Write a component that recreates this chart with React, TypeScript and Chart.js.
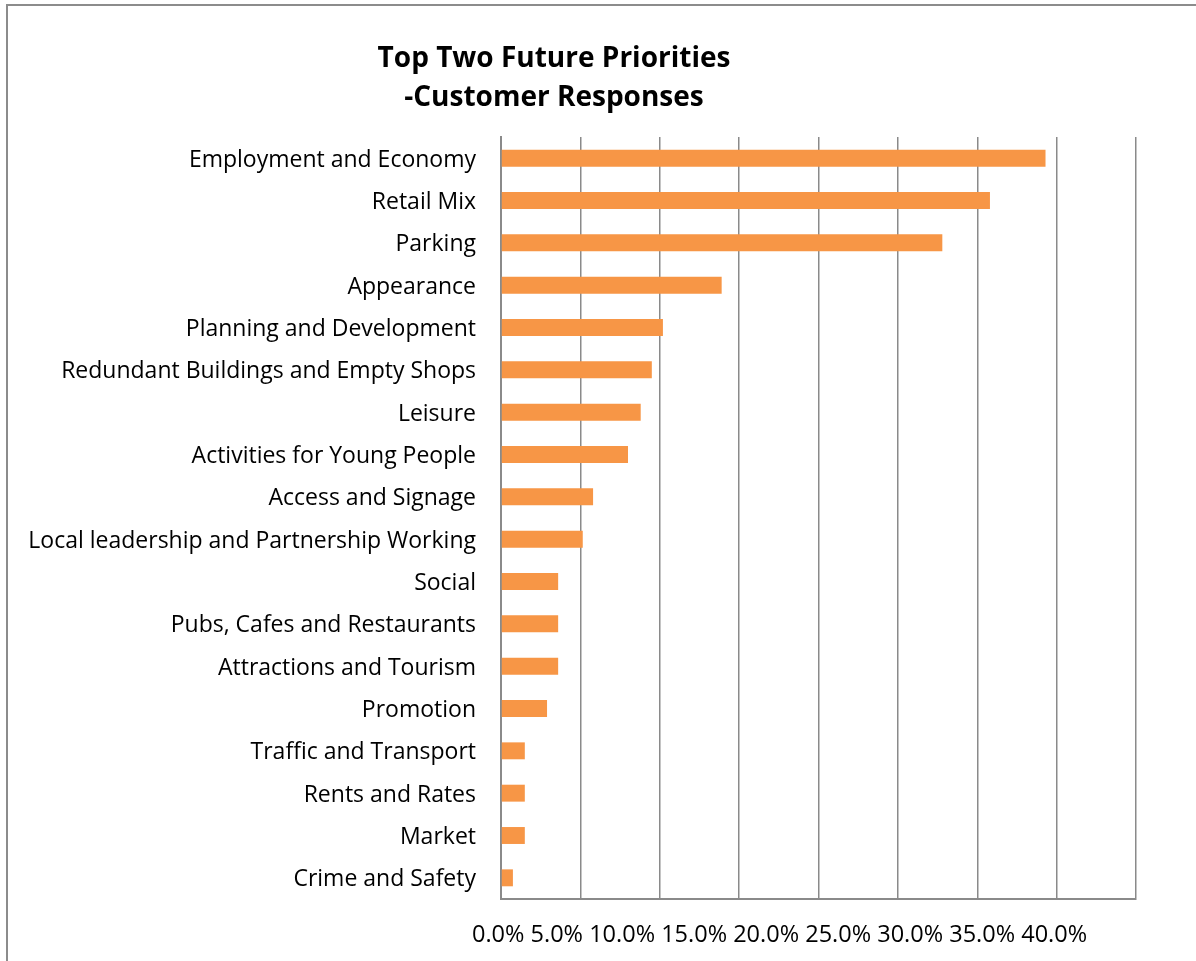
import React, { useEffect, useRef } from "react";
import { Chart, registerables } from "chart.js";

Chart.register(...registerables);

const categories = [
  "Employment and Economy",
  "Retail Mix",
  "Parking",
  "Appearance",
  "Planning and Development",
  "Redundant Buildings and Empty Shops",
  "Leisure",
  "Activities for Young People",
  "Access and Signage",
  "Local leadership and Partnership Working",
  "Social",
  "Pubs, Cafes and Restaurants",
  "Attractions and Tourism",
  "Promotion",
  "Traffic and Transport",
  "Rents and Rates",
  "Market",
  "Crime and Safety",
];

const values = [34.3, 30.8, 27.8, 13.9, 10.2, 9.5, 8.8, 8.0, 5.8, 5.15, 3.6, 3.6, 3.6, 2.9, 1.5, 1.5, 1.5, 0.75];

const tickValues = [0, 5, 10, 15, 20, 25, 30, 35, 40];
const tickLabels = tickValues.map((v) => v.toFixed(1) + "%");

const titleLines = ["Top Two Future Priorities", "-Customer Responses"];

const FONT = "'Open Sans', Lato, sans-serif";

const framePlugin = {
  id: "frameAndText",
  beforeDraw(chart: any) {
    const ctx = chart.ctx;
    ctx.save();
    ctx.fillStyle = "#ffffff";
    ctx.fillRect(0, 0, chart.width, chart.height);
    ctx.strokeStyle = "#8c8c8c";
    ctx.lineWidth = 2;
    ctx.strokeRect(7, 5, chart.width + 20, chart.height + 20);
    ctx.restore();
  },
  afterDraw(chart: any) {
    const ctx = chart.ctx;
    ctx.save();
    ctx.fillStyle = "#000000";
    ctx.textAlign = "center";
    ctx.textBaseline = "middle";
    ctx.font = `bold 28px ${FONT}`;
    ctx.fillText(titleLines[0], 554, 59);
    ctx.fillText(titleLines[1], 554, 98);
    ctx.font = `23.5px ${FONT}`;
    ctx.textAlign = "left";
    const xs = chart.scales.x;
    const text = tickLabels.join(" ");
    ctx.fillText(text, xs.getPixelForValue(0) - 29, 935);
    ctx.restore();
  },
};

export default function App() {
  const ref = useRef<HTMLCanvasElement | null>(null);
  useEffect(() => {
    if (!ref.current) return;
    const chart = new Chart(ref.current, {
      type: "bar",
      data: {
        labels: categories,
        datasets: [
          {
            data: values,
            backgroundColor: "#F79646",
            borderWidth: 0,
            barPercentage: 0.4,
            categoryPercentage: 1,
          },
        ],
      },
      options: {
        indexAxis: "y",
        animation: false,
        responsive: false,
        maintainAspectRatio: false,
        layout: { padding: { top: 137, right: 60, bottom: 62, left: 0 } },
        plugins: {
          legend: { display: false },
          tooltip: { enabled: false },
          title: { display: false },
        },
        scales: {
          x: {
            min: 0,
            max: 40,
            ticks: { stepSize: 5, display: false },
            grid: { color: "#8a8a8a", lineWidth: 1.5, drawTicks: false },
            border: { color: "#8a8a8a", width: 2 },
          },
          y: {
            afterFit: (s: any) => {
              s.width = 501;
            },
            ticks: {
              color: "#000000",
              font: { family: FONT, size: 23 },
              padding: 25,
              labelOffset: 2,
              autoSkip: false,
            },
            grid: { display: false, drawTicks: false },
            border: { color: "#8a8a8a", width: 2 },
          },
        },
      },
      plugins: [framePlugin],
    });
    return () => chart.destroy();
  }, []);
  return (
    <div style={{ position: "absolute", left: 0, top: 0, width: 1196, height: 961 }}>
      <canvas ref={ref} width={1196} height={961} style={{ display: "block" }} />
    </div>
  );
}
